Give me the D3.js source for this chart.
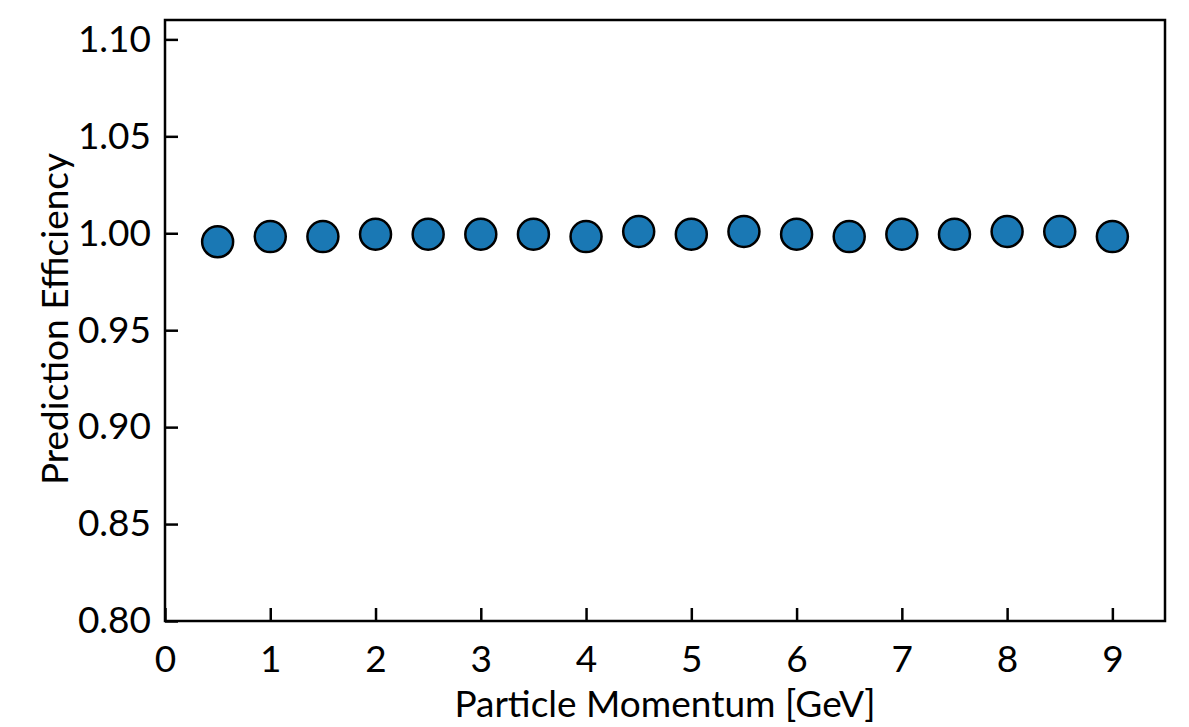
<!DOCTYPE html>
<html lang="en">
<head>
<meta charset="UTF-8">
<title>Prediction Efficiency</title>
<script src="https://d3js.org/d3.v7.min.js"></script>
<style>
  body { margin: 0; background: #fff; }
  text { font-family: Lato, "Noto Sans", sans-serif; fill: #000; }
</style>
</head>
<body>
<div id="chart"></div>
<script>
// momentum bins [GeV] and efficiency
const momentum = [0.5, 1, 1.5, 2, 2.5, 3, 3.5, 4, 4.5, 5, 5.5, 6, 6.5, 7, 7.5, 8, 8.5, 9];
const efficiency = [0.9956, 0.9983, 0.9983, 0.9995, 0.9995, 0.9995, 0.9995, 0.9983, 1.0009, 0.9995,
                    1.0009, 0.9995, 0.9983, 0.9995, 0.9995, 1.0009, 1.0009, 0.9983];
const xTicks = [0, 1, 2, 3, 4, 5, 6, 7, 8, 9];
const yTicks = [0.80, 0.85, 0.90, 0.95, 1.00, 1.05, 1.10];

const width = 1189, height = 727;
const m = { left: 165, right: 24, top: 20, bottom: 106 };
const fontSize = 37;

const svg = d3.select("#chart").append("svg")
  .attr("width", width).attr("height", height);

const x = d3.scaleLinear().domain([0, 9.5]).range([m.left, width - m.right]);
const y = d3.scaleLinear().domain([0.80, 1.11]).range([height - m.bottom, m.top]);

// frame
svg.append("rect")
  .attr("x", m.left).attr("y", m.top)
  .attr("width", width - m.right - m.left)
  .attr("height", height - m.bottom - m.top)
  .attr("fill", "none").attr("stroke", "#000").attr("stroke-width", 2.5);

const xAxis = svg.append("g")
  .attr("transform", `translate(0,${height - m.bottom})`)
  .call(d3.axisBottom(x).tickValues(xTicks).tickSize(-13).tickPadding(25).tickFormat(d3.format("d")));
const yAxis = svg.append("g")
  .attr("transform", `translate(${m.left},0)`)
  .call(d3.axisLeft(y).tickValues(yTicks).tickSize(-13).tickPadding(14).tickFormat(d3.format(".2f")));

[xAxis, yAxis].forEach(g => {
  g.select(".domain").remove();
  g.selectAll(".tick line").attr("stroke", "#000").attr("stroke-width", 2.5);
  g.selectAll(".tick text").attr("font-size", fontSize).attr("font-family", "Lato, 'Noto Sans', sans-serif");
});

svg.append("text")
  .attr("x", (m.left + width - m.right) / 2).attr("y", 717)
  .attr("text-anchor", "middle").attr("font-size", fontSize)
  .text("Particle Momentum [GeV]");

svg.append("text")
  .attr("transform", `translate(68,319) rotate(-90)`)
  .attr("text-anchor", "middle").attr("font-size", fontSize)
  .text("Prediction Efficiency");

svg.append("g").selectAll("circle")
  .data(momentum)
  .join("circle")
  .attr("cx", d => x(d))
  .attr("cy", (d, i) => y(efficiency[i]))
  .attr("r", 15.5)
  .attr("fill", "#1a78b4")
  .attr("stroke", "#000")
  .attr("stroke-width", 2.5);
</script>
</body>
</html>
